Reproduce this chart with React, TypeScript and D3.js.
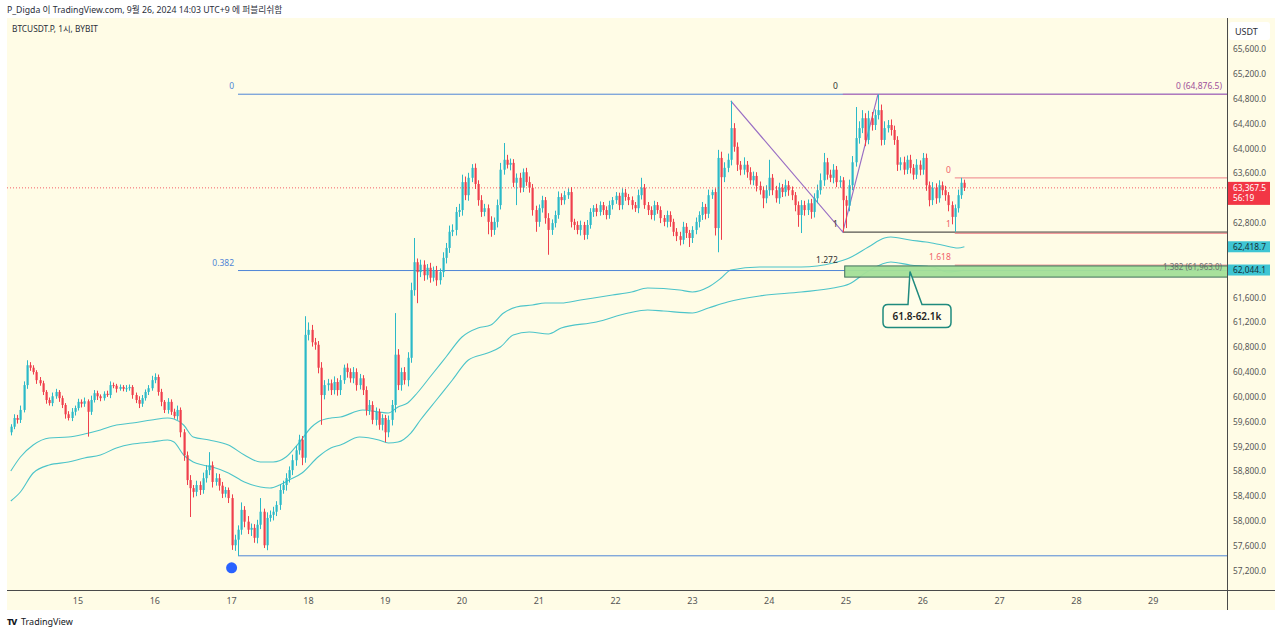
import * as d3 from "d3";

const W = 1280;
const H = 634;
const PLOT_L = 7;
const PLOT_R = 1227;
const PLOT_T = 18;
const PLOT_B = 590;
const FRAME_R = 1275;
const FRAME_B = 610;

const HOUR = 3600 * 1000;
const SEP15 = Date.UTC(2024, 8, 15);
// first visible 1h bar: Sep 14 03:00 (UTC+9 wall clock)
const FIRST_BAR = Date.UTC(2024, 8, 14, 3);
const VIEW_START = SEP15 - 22.1875 * HOUR;
const VIEW_END = SEP15 + 359.0625 * HOUR;

const FONT = "'Noto Sans', 'Noto Sans CJK KR', sans-serif";
const UP = "#2bb9c8";
const DOWN = "#ef3f4c";
const BAND = "#4cc4c9";
const BG = "#fffce6";

const FIRST_OPEN = 59430;

// hourly closes, one row per day
const closes = [
  59520, 59660, 59630, 59790, 60190, 60510, 60470, 60400, 60270, 60220, 60080, 59950, 59900, 60010, 60080, 59980, 59870, 59720, 59660, 59760, 59820,
  59920, 59890, 59930, 59760, 59950, 60060, 60010, 59980, 60050, 60030, 60190, 60180, 60130, 60160, 60130, 60140, 60160, 60030, 59950, 59890, 59980, 60080, 60140, 60270,
  60320, 60080, 59920, 59790, 59920, 59760, 59690, 59790, 59430, 59060, 58660, 58530, 58470, 58580, 58500, 58690, 58820, 58900, 58630, 58690, 58570, 58440, 58500, 58370,
  57610, 57700, 57860, 58180, 57990, 57860, 57890, 57730, 57940, 58150, 57610, 58050, 58100, 58150, 58260, 58500, 58580, 58690, 58820, 58980, 59140, 59310, 59020, 61000,
  61080, 60880, 60840, 60470, 60030, 60190, 60220, 60110, 60240, 60110, 60270, 60470, 60400, 60300, 60400, 60190, 60300, 60110, 59790, 59870, 59630, 59760, 59550, 59660,
  59430, 59630, 59870, 60680, 60190, 60400, 60270, 60630, 61720, 62170, 62010, 62130, 61960, 62080, 61920, 62040, 61880, 62010, 62240, 62400, 62660, 62690, 62980, 63010,
  63460, 63250, 63530, 63690, 63430, 63170, 62980, 63040, 62820, 62690, 62820, 63090, 63660, 63820, 63740, 63770, 63450, 63530, 63370, 63620, 63460, 63370, 63010, 62820,
  63040, 63170, 62880, 62690, 62800, 62930, 63220, 63170, 63250, 63300, 62820, 62770, 62690, 62770, 62610, 62770, 62980, 63040, 62980, 63090, 63010, 62930, 63090, 63170,
  63240, 63090, 63290, 63220, 63170, 63090, 63040, 63250, 63370, 63090, 63010, 62930, 63090, 63010, 62880, 62820, 62930, 62820, 62660, 62590, 62530, 62740, 62640, 62560,
  62690, 62820, 62930, 63060, 62950, 63250, 63300, 62720, 63850, 63540, 63690, 63820, 64330, 64030, 63740, 63660, 63740, 63620, 63490, 63560, 63400, 63330, 63200, 63330,
  63530, 63330, 63200, 63370, 63300, 63410, 63330, 63250, 63090, 62930, 63090, 63010, 63120, 62980, 63200, 63330, 63490, 63780, 63580, 63530, 63660, 63460, 63490, 63170,
  63080, 63410, 63780, 64170, 64330, 64490, 64140, 64490, 64380, 64540, 64620, 64140, 64330, 64380, 64300, 64140, 63740, 63780, 63660, 63820, 63690, 63580, 63740, 63660,
  63850, 63410, 63170, 63370, 63200, 63410, 63330, 63250, 63090, 62900, 63040, 63250, 63450, 63367.5,
];

// distance from the body top to the high
const upperWicks = [
  40, 60, 50, 70, 60, 80, 50, 40, 30, 50, 40, 30, 40, 60, 50, 30, 40, 30, 50, 60, 40,
  50, 40, 60, 30, 70, 50, 40, 30, 40, 50, 60, 40, 30, 40, 30, 50, 40, 30, 40, 60, 50, 40, 50, 70,
  60, 40, 50, 30, 60, 40, 50, 70, 40, 50, 60, 80, 50, 70, 60, 90, 80, 210, 60, 80, 70, 60, 50, 40,
  60, 80, 70, 120, 60, 90, 70, 60, 80, 220, 50, 90, 70, 80, 60, 90, 70, 80, 60, 90, 70, 80, 60, 300,
  120, 80, 70, 60, 90, 80, 70, 60, 90, 60, 80, 50, 70, 60, 80, 60, 70, 50, 60, 80, 60, 70, 50, 60,
  50, 70, 80, 670, 90, 70, 80, 90, 120, 390, 60, 80, 70, 60, 80, 60, 70, 60, 90, 80, 100, 90, 80, 100,
  120, 90, 80, 60, 70, 60, 80, 70, 60, 90, 70, 90, 110, 270, 80, 70, 60, 70, 80, 60, 70, 90, 60, 70,
  60, 70, 50, 80, 60, 70, 90, 60, 70, 60, 80, 50, 60, 70, 50, 80, 60, 50, 70, 60, 50, 60, 70, 50,
  60, 50, 70, 60, 50, 60, 50, 90, 160, 60, 50, 60, 70, 50, 60, 50, 70, 60, 50, 60, 70, 80, 60, 50,
  60, 70, 60, 80, 50, 90, 40, 60, 130, 100, 90, 100, 440, 80, 70, 60, 120, 60, 80, 70, 60, 70, 60, 80,
  290, 60, 70, 80, 60, 90, 70, 60, 50, 60, 80, 70, 60, 70, 80, 90, 110, 150, 70, 80, 90, 60, 70, 50,
  70, 90, 100, 500, 110, 130, 80, 120, 100, 90, 256.5, 90, 110, 80, 90, 70, 60, 80, 90, 70, 80, 60, 90, 70,
  80, 70, 60, 90, 70, 80, 60, 70, 50, 60, 60, 90, 80, 50,
];

// distance from the body bottom to the low
const lowerWicks = [
  50, 40, 60, 50, 40, 60, 50, 40, 60, 40, 50, 60, 40, 50, 40, 60, 50, 70, 40, 50, 60,
  40, 60, 50, 400, 50, 40, 60, 50, 40, 30, 50, 40, 60, 30, 40, 50, 40, 60, 50, 70, 50, 40, 50, 40,
  50, 60, 70, 50, 60, 50, 40, 60, 80, 90, 80, 465, 90, 70, 80, 60, 70, 80, 90, 60, 80, 70, 60, 80,
  75, 90, 260, 80, 90, 70, 100, 80, 90, 70, 45, 80, 60, 90, 70, 80, 60, 90, 70, 80, 90, 70, 120, 80,
  90, 70, 80, 90, 480, 70, 90, 80, 70, 90, 80, 60, 90, 70, 80, 90, 70, 80, 90, 80, 70, 90, 80, 90,
  160, 80, 90, 120, 80, 90, 70, 100, 80, 90, 500, 80, 90, 70, 80, 60, 90, 70, 80, 90, 80, 70, 90, 80,
  90, 80, 90, 70, 80, 90, 80, 70, 200, 110, 80, 90, 70, 80, 60, 90, 70, 360, 80, 70, 60, 80, 90, 160,
  80, 70, 90, 400, 80, 70, 60, 80, 70, 60, 90, 80, 70, 90, 80, 70, 60, 80, 70, 60, 80, 70, 60, 70,
  60, 80, 70, 60, 80, 70, 60, 80, 70, 60, 80, 70, 90, 60, 80, 70, 90, 80, 70, 80, 90, 70, 80, 145,
  80, 70, 90, 80, 90, 70, 60, 120, 390, 1010, 80, 70, 90, 80, 100, 90, 80, 90, 70, 80, 90, 70, 160, 80,
  90, 80, 70, 90, 80, 70, 90, 80, 100, 190, 290, 90, 80, 110, 90, 80, 70, 90, 80, 70, 90, 80, 90, 515,
  360, 90, 80, 70, 90, 80, 100, 70, 90, 80, 70, 90, 80, 70, 90, 80, 100, 90, 80, 70, 90, 80, 70, 90,
  80, 90, 100, 80, 90, 70, 80, 90, 100, 120, 240, 70, 60, 50,
];

// envelope bands, read at bar indices
const upperBandIdx = [0, 3, 7, 12, 18, 23, 28, 33, 38, 44, 49, 51, 54, 57, 62, 68, 73, 78, 82, 86, 90, 94, 96, 100, 103, 110, 115, 118, 121, 124, 127, 131, 136, 141, 146, 150, 154, 158, 163, 167, 172, 178, 188, 194, 199, 209, 213, 218, 222, 225, 234, 247, 257, 262, 268, 273, 275, 281, 286, 291, 296, 298];
const upperBand = [58806, 59032, 59225, 59338, 59354, 59402, 59467, 59547, 59579, 59628, 59660, 59644, 59547, 59354, 59306, 59225, 59064, 58951, 58951, 59032, 59257, 59515, 59596, 59660, 59676, 59789, 59757, 59741, 59837, 59902, 60063, 60321, 60643, 60965, 61110, 61158, 61352, 61448, 61480, 61513, 61513, 61561, 61641, 61690, 61754, 61722, 61690, 61770, 61915, 62044, 62093, 62093, 62157, 62238, 62415, 62560, 62576, 62528, 62495, 62447, 62399, 62418.7];
const lowerBandIdx = [0, 3, 7, 12, 18, 23, 28, 33, 38, 44, 49, 51, 54, 57, 60, 63, 68, 73, 78, 81, 84, 87, 91, 96, 100, 103, 109, 115, 118, 121, 125, 128, 133, 138, 143, 149, 153, 157, 162, 168, 172, 183, 193, 199, 204, 213, 218, 224, 234, 247, 257, 262, 268, 275, 281, 288, 293, 298];
const lowerBand = [58323, 58468, 58774, 58903, 58951, 59016, 59064, 59177, 59241, 59273, 59306, 59273, 59064, 58951, 58903, 58871, 58774, 58629, 58549, 58532, 58581, 58661, 58774, 59032, 59177, 59225, 59354, 59306, 59257, 59273, 59418, 59628, 59950, 60272, 60595, 60707, 60804, 60997, 61045, 61013, 61110, 61207, 61352, 61400, 61384, 61352, 61432, 61529, 61626, 61690, 61754, 61819, 62028, 62173, 62125, 62093, 62012, 62044.1];

const yTickValues = [57200, 57600, 58000, 58400, 58800, 59200, 59600, 60000, 60400, 60800, 61200, 61600, 62000, 62400, 62800, 63200, 63600, 64000, 64400, 64800, 65200, 65600];

// blue fib retracement (swing low -> high)
const retraceStart = 71;
const retraceHigh = 64876.5;
const retraceLow = 57440;
const retraceLevels = [0, 0.382, 1];
const retraceLabels = ["0", "0.382", ""];

// purple trend lines A -> B -> C
const trendIdx = [225, 260, 271];
const trendPrice = [64770, 62655, 64876.5];

// green target zone
const zoneStart = 260.6;
const zoneHigh = 62110;
const zoneLow = 61930;
const calloutIdx = 281;
const calloutText = "61.8-62.1k";

// red fib on the last swing
const redStart = 295;
const redHigh = 63530;
const redLow = 62660;
const redLevels = [0, 1, 1.618];

const lastPrice = 63367.5;
const countdown = "56:19";

export default function App() {
  const candles = closes.map((c, i) => {
    const o = i === 0 ? FIRST_OPEN : closes[i - 1];
    return {
      t: FIRST_BAR + i * HOUR,
      o,
      c,
      h: Math.max(o, c) + upperWicks[i],
      l: Math.min(o, c) - lowerWicks[i],
    };
  });

  const xScale = d3.scaleUtc().domain([VIEW_START, VIEW_END]).range([PLOT_L, PLOT_R]);
  const yScale = d3.scaleLinear().domain([57200, 65600]).range([570.7, 49.3]);
  const xAt = (i: number) => xScale(FIRST_BAR + i * HOUR);

  const dayTicks = xScale.ticks(d3.utcDay.every(1) as any);
  const dayFmt = d3.utcFormat("%-d");
  const priceFmt = d3.format(",.1f");

  const bandLine = (idx: number[]) =>
    d3
      .line<number>()
      .x((_, k) => xAt(idx[k]))
      .y((v) => yScale(v))
      .curve(d3.curveMonotoneX);

  const trendPath = d3
    .line<number>()
    .x((i) => xAt(i))
    .y((_, k) => yScale(trendPrice[k]))(trendIdx);

  const xRetrace = xAt(retraceStart);
  const xB = xAt(trendIdx[1]);
  const xRed = xAt(redStart);
  const zoneX = xAt(zoneStart);

  // callout geometry
  const tipX = xAt(calloutIdx);
  const tipY = yScale((zoneHigh + zoneLow) / 2);
  const bl = tipX - 27;
  const br = tipX + 41;
  const bt = tipY + 33;
  const bb = tipY + 56;
  const r = 5;
  const calloutPath = [
    `M${bl + r},${bt}`,
    `L${tipX - 2},${bt}`,
    `L${tipX},${tipY}`,
    `L${tipX + 12},${bt}`,
    `L${br - r},${bt}`,
    `Q${br},${bt} ${br},${bt + r}`,
    `L${br},${bb - r}`,
    `Q${br},${bb} ${br - r},${bb}`,
    `L${bl + r},${bb}`,
    `Q${bl},${bb} ${bl},${bb - r}`,
    `L${bl},${bt + r}`,
    `Q${bl},${bt} ${bl + r},${bt}`,
    "Z",
  ].join(" ");

  const lowest = d3.min(candles, (d) => d.l) as number;
  const lowestIdx = candles.findIndex((d) => d.l === lowest);

  const yLast = yScale(lastPrice);
  const yUpLast = yScale(upperBand[upperBand.length - 1]);
  const yLoLast = yScale(lowerBand[lowerBand.length - 1]);

  // axis labels hidden behind the price tags, as the platform does
  const tagRanges: [number, number][] = [
    [yLast - 6, yLast + 17],
    [yUpLast - 5.5, yUpLast + 5.5],
    [yLoLast - 5.5, yLoLast + 5.5],
    [22, 40],
  ];
  const visibleTicks = yTickValues.filter((v) => {
    const y = yScale(v);
    return !tagRanges.some(([a, b]) => y + 5 > a && y - 5 < b);
  });

  return (
    <svg
      width={W}
      height={H}
      style={{ position: "absolute", left: 0, top: 0, background: "#fff" }}
      fontFamily={FONT}
    >
      <defs>
        <clipPath id="plot">
          <rect x={PLOT_L} y={PLOT_T} width={PLOT_R - PLOT_L} height={PLOT_B - PLOT_T} />
        </clipPath>
      </defs>

      <text x={7} y={13} fontSize={8.7} fill="#2a2e39">
        P_Digda 이 TradingView.com, 9월 26, 2024 14:03 UTC+9 에 퍼블리쉬함
      </text>

      <rect x={PLOT_L} y={PLOT_T} width={FRAME_R - PLOT_L} height={FRAME_B - PLOT_T} fill={BG} />

      <g clipPath="url(#plot)">
        {/* bands */}
        <path d={bandLine(upperBandIdx)(upperBand) || ""} fill="none" stroke={BAND} strokeWidth={1.1} />
        <path d={bandLine(lowerBandIdx)(lowerBand) || ""} fill="none" stroke={BAND} strokeWidth={1.1} />

        {/* blue retracement */}
        {retraceLevels.map((lv) => {
          const y = yScale(retraceHigh - lv * (retraceHigh - retraceLow));
          return <line key={lv} x1={xRetrace} x2={PLOT_R} y1={y} y2={y} stroke="#4f86d6" strokeWidth={1} />;
        })}

        {/* purple swing */}
        <line x1={xB} x2={PLOT_R} y1={yScale(trendPrice[2])} y2={yScale(trendPrice[2])} stroke="#c766b0" strokeWidth={1} />
        <line x1={xB} x2={PLOT_R} y1={yScale(trendPrice[1])} y2={yScale(trendPrice[1])} stroke="#2a2a2a" strokeWidth={1} />
        <path d={trendPath || ""} fill="none" stroke="#9a6fc4" strokeWidth={1.2} />

        {/* red fib */}
        {redLevels.map((lv) => {
          const y = yScale(redHigh - lv * (redHigh - redLow)) + (lv === 1 ? 1.5 : 0);
          return <line key={lv} x1={xRed} x2={PLOT_R} y1={y} y2={y} stroke="#f29a9a" strokeWidth={1.2} />;
        })}

        {/* zone */}
        <rect
          x={zoneX}
          y={yScale(zoneHigh)}
          width={PLOT_R - zoneX}
          height={yScale(zoneLow) - yScale(zoneHigh)}
          fill="#a3df98"
          fillOpacity={0.95}
        />
        <text x={PLOT_R - 5} y={yScale(zoneHigh) + 4} fontSize={8} fill="#6f6f6f" textAnchor="end">
          1.382 (61,963.0)
        </text>
        <rect
          x={zoneX}
          y={yScale(zoneHigh)}
          width={PLOT_R - zoneX + 2}
          height={yScale(zoneLow) - yScale(zoneHigh)}
          fill="none"
          stroke="#3f6f5c"
          strokeWidth={1}
        />

        {/* candles */}
        {candles.map((d, i) => {
          const cx = Math.round(xScale(d.t)) + 0.5;
          const color = d.c >= d.o ? UP : DOWN;
          const yTop = yScale(Math.max(d.o, d.c));
          const yBot = yScale(Math.min(d.o, d.c));
          return (
            <g key={i}>
              <line x1={cx} x2={cx} y1={yScale(d.h)} y2={yScale(d.l)} stroke={color} strokeWidth={1} />
              <rect x={cx - 1} y={yTop} width={2.2} height={Math.max(yBot - yTop, 1)} fill={color} />
            </g>
          );
        })}

        {/* last price */}
        <line x1={PLOT_L} x2={PLOT_R} y1={yLast} y2={yLast} stroke="#f23645" strokeWidth={0.8} strokeDasharray="1 2" />

        {/* labels */}
        {retraceLevels.map((lv, k) => (
          <text
            key={lv}
            x={xRetrace - 4}
            y={yScale(retraceHigh - lv * (retraceHigh - retraceLow)) - 5}
            fontSize={8.5}
            fill="#4f86d6"
            textAnchor="end"
          >
            {retraceLabels[k]}
          </text>
        ))}
        <text x={xB - 5} y={yScale(trendPrice[2]) - 5} fontSize={8.5} fill="#333" textAnchor="end">0</text>
        <text x={xB - 5} y={yScale(trendPrice[1]) - 5} fontSize={8.5} fill="#333" textAnchor="end">1</text>
        <text x={xB - 5} y={yScale(zoneHigh) - 3} fontSize={8.5} fill="#333" textAnchor="end">1.272</text>
        <text x={PLOT_R - 5} y={yScale(trendPrice[2]) - 5} fontSize={8.5} fill="#a0509a" textAnchor="end">
          0 (64,876.5)
        </text>
        {redLevels.map((lv) => (
          <text
            key={lv}
            x={xRed - 4}
            y={yScale(redHigh - lv * (redHigh - redLow)) - 5}
            fontSize={8.5}
            fill="#f0616a"
            textAnchor="end"
          >
            {String(lv)}
          </text>
        ))}

        {/* callout */}
        <path d={calloutPath} fill="#fffde9" stroke="#1f8a7e" strokeWidth={1.5} />
        <text x={(bl + br) / 2} y={bt + 15.5} fontSize={10} fontWeight={600} fill="#222" textAnchor="middle">
          {calloutText}
        </text>

        {/* low marker */}
        <circle cx={xAt(lowestIdx - 2)} cy={yScale(lowest) + 12} r={5.5} fill="#2962ff" />

        <text x={12} y={32} fontSize={8.3} fill="#2a2e39">BTCUSDT.P, 1시, BYBIT</text>
      </g>

      {/* frame */}
      <line x1={PLOT_R + 0.5} x2={PLOT_R + 0.5} y1={PLOT_T} y2={FRAME_B} stroke="#4a4a4a" strokeWidth={1} />
      <line x1={PLOT_L} x2={FRAME_R} y1={PLOT_B + 0.5} y2={PLOT_B + 0.5} stroke="#4a4a4a" strokeWidth={1} />

      {/* x axis */}
      {dayTicks.map((t) => (
        <text key={+t} x={xScale(t)} y={604} fontSize={9} fill="#555" textAnchor="middle">
          {dayFmt(t)}
        </text>
      ))}

      {/* y axis */}
      {visibleTicks.map((v) => (
        <text key={v} x={1233} y={yScale(v) + 3} fontSize={8.3} fill="#555">
          {priceFmt(v)}
        </text>
      ))}

      <rect x={1229} y={22} width={41} height={18} rx={3} fill="#fff" />
      <text x={1235} y={34.5} fontSize={9} fill="#2a2e39">USDT</text>

      <rect x={1228} y={yUpLast - 5.5} width={42} height={11} fill="#3ec5d3" />
      <text x={1233} y={yUpLast + 3} fontSize={8.3} fill="#17323a">{priceFmt(upperBand[upperBand.length - 1])}</text>
      <rect x={1228} y={yLoLast - 5.5} width={42} height={11} fill="#3ec5d3" />
      <text x={1233} y={yLoLast + 3} fontSize={8.3} fill="#17323a">{priceFmt(lowerBand[lowerBand.length - 1])}</text>

      <rect x={1228} y={yLast - 6} width={42} height={23} fill="#f23645" />
      <text x={1233} y={yLast + 3} fontSize={8.3} fill="#fff">{priceFmt(lastPrice)}</text>
      <text x={1233} y={yLast + 13.5} fontSize={8.3} fill="#fff">{countdown}</text>

      {/* footer */}
      <text x={7} y={625} fontSize={9} fontWeight={800} fill="#131722" letterSpacing={-1}>TV</text>
      <text x={21} y={625} fontSize={9} fill="#131722">TradingView</text>
    </svg>
  );
}
